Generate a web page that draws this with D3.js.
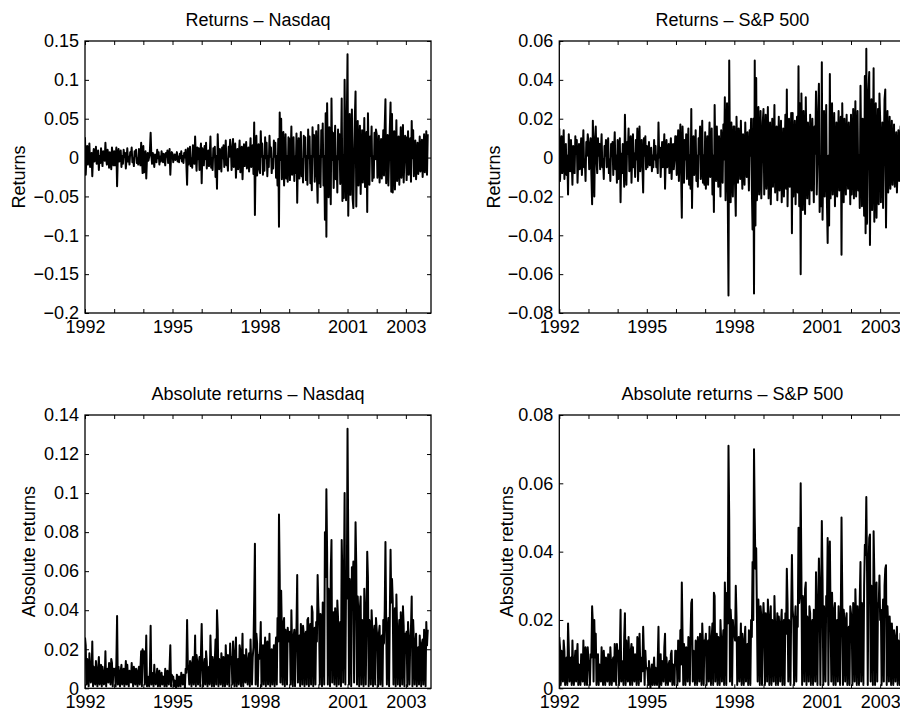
<!DOCTYPE html>
<html>
<head>
<meta charset="utf-8">
<script src="https://cdn.jsdelivr.net/npm/d3@7"></script>
<style>
  body { margin: 0; background: #fff; }
  text { font-family: "Liberation Sans", Arial, Helvetica, sans-serif; fill: #000; }
</style>
</head>
<body>
<svg id="chart" width="900" height="715"></svg>
<script>
/* global d3 */
// daily returns sampled 40 times a year, in percent, starting 1992.0
const nasdaqReturns = [
  // 1992
  2.6, -2.2, 0.2, 1.5, -0.9, -0.1, 1.8, -1.2, 0.3, 0.6, -2.4, 0.1, 1.1, -0.5, -0.2, 1.4, -0.8, 0.1, 0.9, -1.6,
  0.2, -0.7, 1.2, -0.1, -1.1, 0.8, 0.2, -0.4, 1.9, -0.1, -0.9, 1.0, 0.3, -1.3, 0.7, -0.2, -1.5, 1.3, 0.1, -1.0,
  // 1993
  0.8, -1.0, 0.1, 1.3, -3.7, 0.2, 1.1, -0.5, -0.1, 0.9, -1.2, 0.2, -0.8, 1.0, 0.1, 0.6, -1.4, -0.2, 1.2, -0.5,
  0.1, -0.9, 0.7, 0.3, 1.3, -0.6, -0.1, -1.1, 0.8, 0.2, 1.0, -0.7, -0.1, -0.9, 1.1, 0.2, -1.0, 1.9, 0.1, -2.0,
  // 1994
  1.5, -1.9, 0.2, 0.8, -2.7, -0.1, 0.6, -0.4, 0.1, 0.9, 3.2, 0.2, -0.8, 0.6, -0.1, -1.2, 0.4, 0.2, -0.6, 1.0,
  -0.1, 0.7, -0.9, 0.1, -0.5, 0.8, 0.2, -0.6, 0.5, -0.1, -1.0, 0.6, 0.1, 0.9, -0.7, -0.2, 1.1, -2.2, 0.1, 0.7,
  // 1995
  0.5, -0.6, 0.1, 0.4, -0.3, 0.0, 0.7, -0.5, 0.1, -0.6, 0.5, -0.1, 0.8, -0.5, 0.2, -0.7, 0.6, 0.0, 1.0, -0.8,
  -3.5, 1.2, -0.9, 0.2, 1.4, -1.1, -0.1, -1.3, 1.6, 0.2, -0.8, 2.7, 0.1, -1.7, 1.3, -0.2, 1.2, -1.6, 0.1, 1.8,
  // 1996
  -3.3, 1.2, 0.1, -1.0, 1.5, -0.2, 1.9, -1.4, 0.1, 0.9, -1.1, 0.2, 2.7, -1.3, -0.1, -1.6, 1.2, 0.1, 1.4, -2.5,
  0.2, -4.0, 3.0, -0.1, -1.5, 1.1, 0.2, -1.8, 1.3, -0.1, 1.6, -1.2, 0.1, 2.2, -1.0, -0.2, -1.7, 1.4, 0.1, 2.3,
  // 1997
  1.3, -1.6, 0.2, 2.4, -1.2, -0.1, 1.8, -2.6, 0.1, 1.1, -1.5, 0.2, 2.2, -1.9, -0.1, 1.4, -2.8, 0.1, 1.7, -1.1,
  0.3, 2.0, -1.4, -0.2, 1.3, -1.8, 0.1, 2.5, -1.2, 0.2, 1.6, -2.1, 4.5, -7.4, 0.2, 2.8, -2.3, -0.1, 1.7, -1.5,
  // 1998
  -2.0, 3.4, 0.1, 1.8, -2.2, 0.2, -1.7, 2.6, -0.1, 1.9, -2.4, 0.2, -1.2, 2.8, 0.1, 1.3, -2.0, -0.2, -1.4, 2.2,
  0.1, 1.9, -2.6, 0.2, -3.6, 2.4, -8.9, 5.8, -0.3, 5.0, -2.8, 0.2, 3.3, -3.6, -0.1, 3.0, -2.7, 0.2, -3.1, 2.6,
  // 1999
  2.4, -2.9, 0.2, 4.0, -2.2, -0.1, 2.6, -3.0, 0.1, -2.0, 3.1, -5.8, 0.3, 2.5, -2.7, 0.1, 3.3, -2.4, -0.2, -3.2,
  2.8, 0.1, 2.6, -2.9, 0.2, -3.5, 3.6, -0.1, 2.7, -3.3, 0.2, -4.2, 3.9, 0.1, 2.9, -3.1, -0.2, 3.4, -2.4, -5.8,
  // 2000
  4.2, -3.3, 0.2, -3.8, 3.5, 0.1, 4.4, -3.6, 0.2, -8.0, 5.7, -10.2, 7.0, -0.2, -5.1, 3.9, 0.1, -6.0, 7.6, -0.3,
  3.2, -3.9, 0.2, 4.1, -2.8, 0.1, -4.5, 3.6, -0.2, 3.0, -3.4, 0.1, 7.6, -5.6, 0.3, -5.2, 10.0, 0.2, -5.5, 4.6,
  // 2001
  13.3, -7.5, 0.2, 5.6, -4.8, 0.1, 6.2, -5.3, -6.5, 0.3, 5.0, 8.5, -6.3, 0.2, 4.7, -3.6, 0.1, 4.1, -4.7, -0.2,
  3.5, -3.2, 0.1, 5.1, -3.8, 0.2, 3.3, -7.0, 5.7, -0.1, -3.5, 2.7, 0.2, 4.0, -3.0, 0.1, -2.6, 3.2, -0.2, 3.6,
  // 2002
  3.0, -2.6, 0.1, 2.8, -3.2, 0.2, 2.4, -2.7, -0.1, 3.5, -2.3, 4.0, 7.5, -3.3, 0.2, 2.9, -3.6, 0.1, 3.8, 7.1,
  -4.4, 5.6, -4.5, 0.2, 3.4, -4.1, 0.1, 4.8, -3.0, -0.2, 2.7, -3.5, 0.1, 3.9, -2.6, 0.2, 4.2, -3.2, -0.1, 2.8,
  // 2003
  2.6, -2.9, 0.1, 3.4, -2.2, 0.2, 2.5, -3.1, 4.7, -0.1, 3.5, -2.4, 0.2, 2.2, -2.8, 0.1, 1.9, -2.1, -0.2, 2.7,
  -1.8, 0.1, 2.3, -2.5, 0.2, 3.0, -1.9, 0.1, 3.4, -2.2, 3.0
]

const sp500Returns = [
  // 1992
  1.5, -1.2, 0.1, 1.1, -0.8, 0.2, 1.4, -1.1, -0.1, 0.7, -0.9, 0.1, -1.9, 1.2, 0.2, -0.7, 0.9, -0.1, -1.4, 0.6,
  0.1, -0.8, 1.1, 0.2, 0.9, -1.3, -0.1, 0.7, -0.6, 0.1, 1.0, -0.9, 0.2, 1.4, -0.5, -0.1, -1.2, 0.8, 0.1, 1.2,
  // 1993
  0.8, -0.6, 0.1, 1.0, -0.9, -2.4, 1.9, 0.2, -2.0, 0.9, 1.6, -0.1, -0.8, 1.0, 0.1, 0.7, -0.6, 0.2, 1.2, -0.5,
  -0.1, -1.1, 0.6, 0.1, 0.9, -0.5, 0.2, 1.0, -0.8, -0.1, -1.2, 0.7, 0.1, 0.8, -0.9, 0.2, 1.3, -0.6, 0.1, -1.3,
  // 1994
  0.9, -1.1, 0.1, 1.0, -2.3, 0.2, -0.8, 0.7, -0.1, -1.5, 2.2, 0.1, -1.4, 0.8, 0.2, 1.5, -0.7, -0.1, 1.1, -1.3,
  0.1, 1.2, -0.5, 0.2, -1.0, 0.9, -0.1, 1.5, -1.2, 0.1, 1.6, -0.7, 0.2, 0.9, -0.5, -1.8, 1.0, 0.1, 1.1, -0.6,
  // 1995
  0.6, -0.5, 0.1, 0.8, -0.4, 0.0, 0.5, -0.7, 0.1, -0.5, 0.9, -0.1, 0.6, -0.5, 0.1, -0.8, 1.8, 0.0, 0.5, -1.0,
  0.1, 0.8, -0.5, 0.2, 1.2, -1.6, -0.1, 0.9, -0.5, 0.1, 0.7, -0.8, 0.2, 1.0, -1.1, 0.1, 0.7, -0.6, -0.1, 1.1,
  // 1996
  1.1, -0.9, 0.1, 1.4, -1.2, 0.2, 1.7, -0.7, -3.1, 1.6, 0.1, -1.3, 0.9, -0.1, 1.2, -1.1, 0.2, 1.5, -1.4, 0.1,
  -1.6, 2.5, -2.6, 0.2, 1.1, -0.9, -0.1, 1.4, -1.2, 0.1, -1.5, 1.0, 0.2, 1.6, -1.1, -0.1, 1.9, -1.3, 0.1, -1.4,
  // 1997
  1.3, -1.6, 0.1, 1.1, -1.4, 0.2, 1.8, -1.0, -0.1, 1.5, -1.9, 0.1, -2.8, 2.7, 0.2, -1.2, 1.6, -0.1, -1.5, 1.1,
  0.1, -2.0, 1.4, 0.2, -1.3, 1.7, -0.1, 3.1, -2.2, 0.1, 2.8, -1.9, -7.1, 5.0, 0.2, -2.3, 1.8, -0.1, -2.0, 1.6,
  // 1998
  1.6, -1.4, -3.0, 2.1, 0.1, -1.3, 1.5, 0.2, -1.1, 1.9, -0.1, -1.6, 1.2, 0.1, -1.4, 1.8, 0.2, -1.0, 1.3, -0.1,
  -1.7, 1.4, 0.1, 2.0, -1.5, -3.7, 2.0, -7.0, 5.0, -3.5, 4.1, -2.2, 0.2, 2.6, -1.9, -0.1, 2.4, -2.1, 0.1, 1.8,
  // 1999
  2.5, -1.9, 0.1, 2.2, -1.6, 0.2, 2.6, -2.1, -0.1, 1.8, -2.4, 0.1, 2.0, -1.5, 0.2, 2.7, -1.8, -0.1, 1.6, -2.2,
  0.1, 2.1, -1.7, 0.2, 1.9, -2.3, -0.1, 1.5, -2.0, 0.1, 2.2, -1.6, 3.5, -2.5, 0.2, 2.0, -1.5, -0.1, 2.3, -3.9,
  // 2000
  2.3, -2.0, 0.1, 1.9, -2.4, 0.2, 2.1, -1.8, 4.7, -2.5, 2.8, -6.0, 3.3, 0.1, -2.7, 2.4, -0.2, -2.9, 3.1, 0.1,
  -2.1, 1.8, 0.2, -2.4, 2.2, -0.1, -1.7, 2.0, 0.1, -2.3, 1.6, 0.2, 3.4, -1.9, -0.1, 2.5, 3.8, -2.8, 0.1, -2.5,
  // 2001
  4.9, -3.2, 0.1, 2.4, -2.0, 0.2, 2.7, -2.3, -4.4, 0.1, -3.5, 4.3, -2.1, 0.2, 2.8, -1.9, -0.1, 2.3, -2.5, 0.1,
  1.8, -2.0, 0.2, 2.4, -1.7, -0.1, 2.1, -5.0, 2.8, 0.1, -2.3, 2.0, 0.2, -1.9, 2.2, -0.1, -1.6, 1.8, 0.1, -2.4,
  // 2002
  2.2, -1.9, 0.1, 2.5, -2.1, 0.2, 2.9, -2.0, -0.1, 2.4, -1.7, 0.1, -2.6, 3.7, 0.2, -2.5, 2.0, -0.1, -3.0, 4.2,
  -3.9, 5.6, -3.4, 0.1, 3.5, 4.4, -4.5, 0.2, 3.0, -2.7, 0.1, 4.6, -3.3, -0.1, 2.8, -3.1, 0.2, 2.5, -2.4, 3.3,
  // 2003
  2.0, -2.3, 0.1, 1.8, -2.6, 0.2, 3.0, 3.5, -3.6, 0.1, 2.4, -1.8, 0.2, 2.1, -1.6, -0.1, 1.9, -1.4, 0.1, 1.7,
  -1.5, 0.2, 1.3, -1.8, -0.1, 1.4, -1.2, 0.1, 1.6, -1.1, 1.5
]

const startYear = 1992
const samplesPerYear = 40
const yearTicks = d3.range(1992, 2004)
const yearLabels = [1992, 1995, 1998, 2001, 2003]

const nasdaqRetTicks = [-0.2, -0.15, -0.1, -0.05, 0, 0.05, 0.1, 0.15]
const sp500RetTicks = [-0.08, -0.06, -0.04, -0.02, 0, 0.02, 0.04, 0.06]
const nasdaqAbsTicks = [0, 0.02, 0.04, 0.06, 0.08, 0.1, 0.12, 0.14]
const sp500AbsTicks = [0, 0.02, 0.04, 0.06, 0.08]

const titles = ['Returns \u2013 Nasdaq', 'Returns \u2013 S&P 500',
  'Absolute returns \u2013 Nasdaq', 'Absolute returns \u2013 S&P 500']
const yLabels = ['Returns', 'Returns', 'Absolute returns', 'Absolute returns']

const svg = d3.select('#chart')
const fontSize = 18
const tickLen = 4
const pxPerYear = 29.17
const plotW = 346

const toPoints = (vals, abs) => vals.map((v, i) => ({
  t: startYear + i / samplesPerYear,
  v: abs ? Math.abs(v) / 100 : v / 100
}))

const fmt = v => {
  const s = String(+v.toFixed(4))
  return s.replace('-', '\u2212')
}

const panels = [
  { vals: nasdaqReturns, abs: false, ticks: nasdaqRetTicks, left: 85, top: 41, bottom: 313, labelX: 25 },
  { vals: sp500Returns, abs: false, ticks: sp500RetTicks, left: 559.3, top: 41, bottom: 313, labelX: 500 },
  { vals: nasdaqReturns, abs: true, ticks: nasdaqAbsTicks, left: 85, top: 415, bottom: 688.3, labelX: 35 },
  { vals: sp500Returns, abs: true, ticks: sp500AbsTicks, left: 559.3, top: 415, bottom: 688.3, labelX: 513 }
]

panels.forEach((p, k) => {
  const right = p.left + plotW
  const x = d3.scaleLinear()
    .domain([startYear, startYear + plotW / pxPerYear])
    .range([p.left, right])
  const y = d3.scaleLinear()
    .domain(d3.extent(p.ticks))
    .range([p.bottom, p.top])

  const g = svg.append('g')
  const clipId = 'clip' + k
  g.append('clipPath').attr('id', clipId)
    .append('rect')
    .attr('x', p.left).attr('y', p.top)
    .attr('width', plotW).attr('height', p.bottom - p.top)

  // series, drawn heavy so the dense band reads as solid
  const line = d3.line().x(d => x(d.t)).y(d => y(d.v))
  g.append('path')
    .datum(toPoints(p.vals, p.abs))
    .attr('clip-path', `url(#${clipId})`)
    .attr('fill', 'none')
    .attr('stroke', '#000')
    .attr('stroke-width', 2)
    .attr('stroke-linejoin', 'round')
    .attr('d', line)

  // axes: bottom and top with inward ticks, labels only on bottom
  const xBottom = d3.axisBottom(x)
    .tickValues(yearTicks)
    .tickSize(-tickLen)
    .tickPadding(7)
    .tickFormat(d => (yearLabels.includes(d) ? d : ''))
  const xTop = d3.axisTop(x).tickValues(yearTicks).tickSize(-tickLen).tickFormat('')
  const yLeft = d3.axisLeft(y)
    .tickValues(p.ticks)
    .tickSize(-tickLen)
    .tickPadding(6)
    .tickFormat(fmt)
  const yRight = d3.axisRight(y).tickValues(p.ticks).tickSize(-tickLen).tickFormat('')

  const axes = [
    g.append('g').attr('transform', `translate(0,${p.bottom})`).call(xBottom),
    g.append('g').attr('transform', `translate(0,${p.top})`).call(xTop),
    g.append('g').attr('transform', `translate(${p.left},0)`).call(yLeft),
    g.append('g').attr('transform', `translate(${right},0)`).call(yRight)
  ]
  axes.forEach(a => {
    a.select('.domain').remove()
    a.selectAll('line').attr('stroke', '#000').attr('stroke-width', 1)
    a.selectAll('text')
      .attr('font-size', fontSize)
      .attr('font-family', '"Liberation Sans", Arial, Helvetica, sans-serif')
      .attr('fill', '#000')
  })

  // box
  g.append('rect')
    .attr('x', p.left).attr('y', p.top)
    .attr('width', plotW).attr('height', p.bottom - p.top)
    .attr('fill', 'none')
    .attr('stroke', '#000')
    .attr('stroke-width', 1.3)

  // title
  g.append('text')
    .attr('x', p.left + plotW / 2)
    .attr('y', p.top - 15)
    .attr('text-anchor', 'middle')
    .attr('font-size', fontSize)
    .text(titles[k])

  // y label
  g.append('text')
    .attr('transform', `translate(${p.labelX},${(p.top + p.bottom) / 2}) rotate(-90)`)
    .attr('text-anchor', 'middle')
    .attr('font-size', fontSize)
    .text(yLabels[k])
})
</script>
</body>
</html>
